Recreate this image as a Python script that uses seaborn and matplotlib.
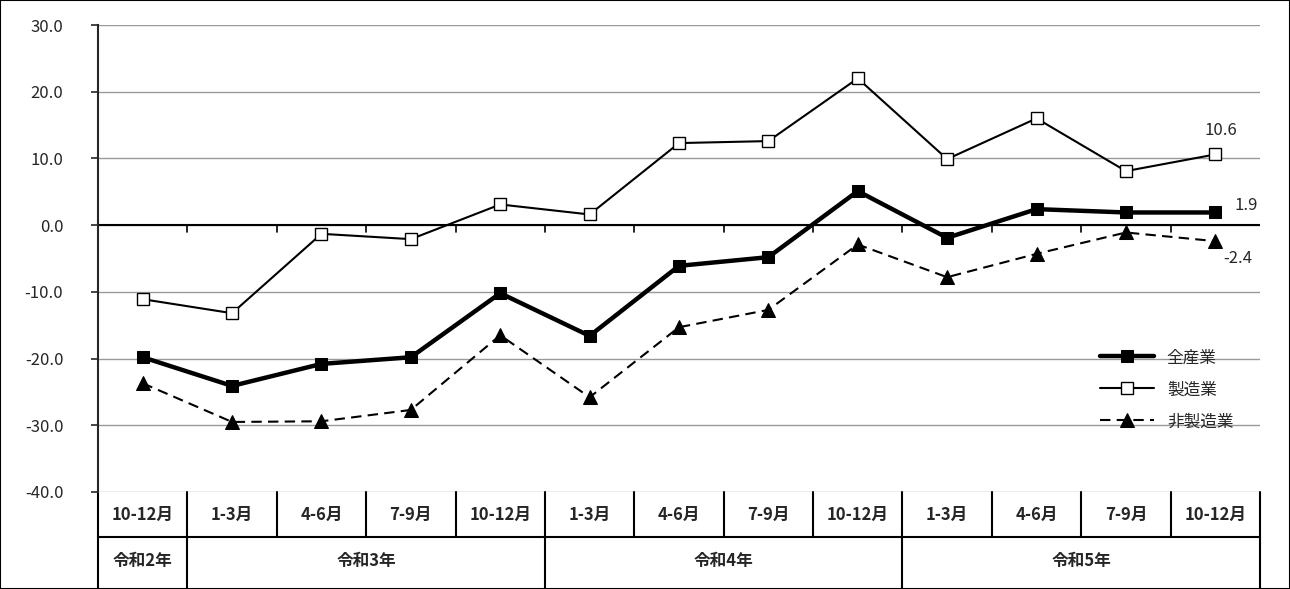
import numpy as np
import pandas as pd
import matplotlib
matplotlib.use("Agg")
import matplotlib.pyplot as plt
import seaborn as sns

quarters = ["10-12月", "1-3月", "4-6月", "7-9月", "10-12月", "1-3月", "4-6月",
            "7-9月", "10-12月", "1-3月", "4-6月", "7-9月", "10-12月"]
years = ["令和2年", "令和3年", "令和4年", "令和5年"]
year_spans = [1, 4, 4, 4]
all_ind = [-19.8, -24.1, -20.8, -19.8, -10.2, -16.6, -6.1, -4.8, 5.1, -1.9, 2.4, 1.9, 1.9]
manuf = [-11.1, -13.2, -1.3, -2.1, 3.1, 1.6, 12.3, 12.6, 22.0, 9.9, 16.0, 8.1, 10.6]
non_manuf = [-23.7, -29.5, -29.4, -27.7, -16.5, -25.8, -15.3, -12.7, -2.9, -7.8, -4.3, -1.1, -2.4]

sns.set_style("white")
plt.rcParams['font.family'] = ['Noto Sans CJK JP', 'DejaVu Sans']

fig = plt.figure(figsize=(12.9, 5.89), dpi=100)
ax = fig.add_axes([98/1290, 97/589, 1162/1290, 467/589])
x = np.arange(len(quarters))

sns.lineplot(x=x, y=all_ind, ax=ax, color="black", lw=3.2, marker="s", ms=8,
             mfc="black", mec="black", label="全産業")
sns.lineplot(x=x, y=manuf, ax=ax, color="black", lw=1.5, marker="s", ms=8,
             mfc="white", mec="black", mew=1, label="製造業")
sns.lineplot(x=x, y=non_manuf, ax=ax, color="black", lw=1.5, marker="^", ms=10,
             mfc="black", mec="black", label="非製造業")
for ln in ax.lines:
    if ln.get_label() == "非製造業" or list(ln.get_ydata()) == non_manuf:
        ln.set_dashes((5, 3))

ax.set_xlim(-0.5, 12.5)
ax.set_ylim(-40, 30)
ax.set_yticks(np.arange(-40, 31, 10))
ax.set_yticklabels([f"{v:.1f}" for v in np.arange(-40, 31, 10)], fontsize=12)
ax.yaxis.grid(True, color="#999999", lw=1)
ax.set_axisbelow(True)
ax.set_xticks([])
ax.tick_params(axis="y", left=True, length=5, width=1.2, pad=20)
for s in ["top", "right", "bottom"]:
    ax.spines[s].set_visible(False)
ax.spines["left"].set_linewidth(1.5)
ax.axhline(0, color="black", lw=1.5)
for b in np.arange(0.5, 12.5, 1):
    ax.plot([b, b], [0, -1.0], color="black", lw=1.2)

ax.annotate("10.6", (12, manuf[-1]), xytext=(-8, 14), textcoords="offset points", fontsize=12)
ax.annotate("1.9", (12, all_ind[-1]), xytext=(14, 2), textcoords="offset points", fontsize=12)
ax.annotate("-2.4", (12, non_manuf[-1]), xytext=(6, -16), textcoords="offset points", fontsize=12)

leg = ax.legend(loc="lower right", bbox_to_anchor=(0.99, 0.10), frameon=False,
                fontsize=12, handlelength=3.2, labelspacing=0.9)

# category table under the plot
tr = ax.get_xaxis_transform()
r1, r2 = -45/467, -97/467
kw = dict(color="black", lw=1.5, clip_on=False, transform=tr)
ax.plot([-0.5, 12.5], [r1, r1], **kw)
for b in np.arange(-0.5, 13, 1):
    ax.plot([b, b], [0, r1], **kw)
for i, q in enumerate(quarters):
    ax.text(i, r1/2, q, transform=tr, ha="center", va="center", fontsize=12, fontweight="bold")
start = -0.5
for yr, sp in zip(years, year_spans):
    ax.plot([start, start], [r1, r2], **kw)
    ax.text(start + sp/2, (r1 + r2)/2 + 0.005, yr, transform=tr, ha="center", va="center",
            fontsize=12, fontweight="bold")
    start += sp
ax.plot([start, start], [r1, r2], **kw)

fig.patches.append(plt.Rectangle((0, 0), 1, 1, transform=fig.transFigure, fill=False,
                                 ec="black", lw=1.5))
fig.savefig("out.png", dpi=100)
